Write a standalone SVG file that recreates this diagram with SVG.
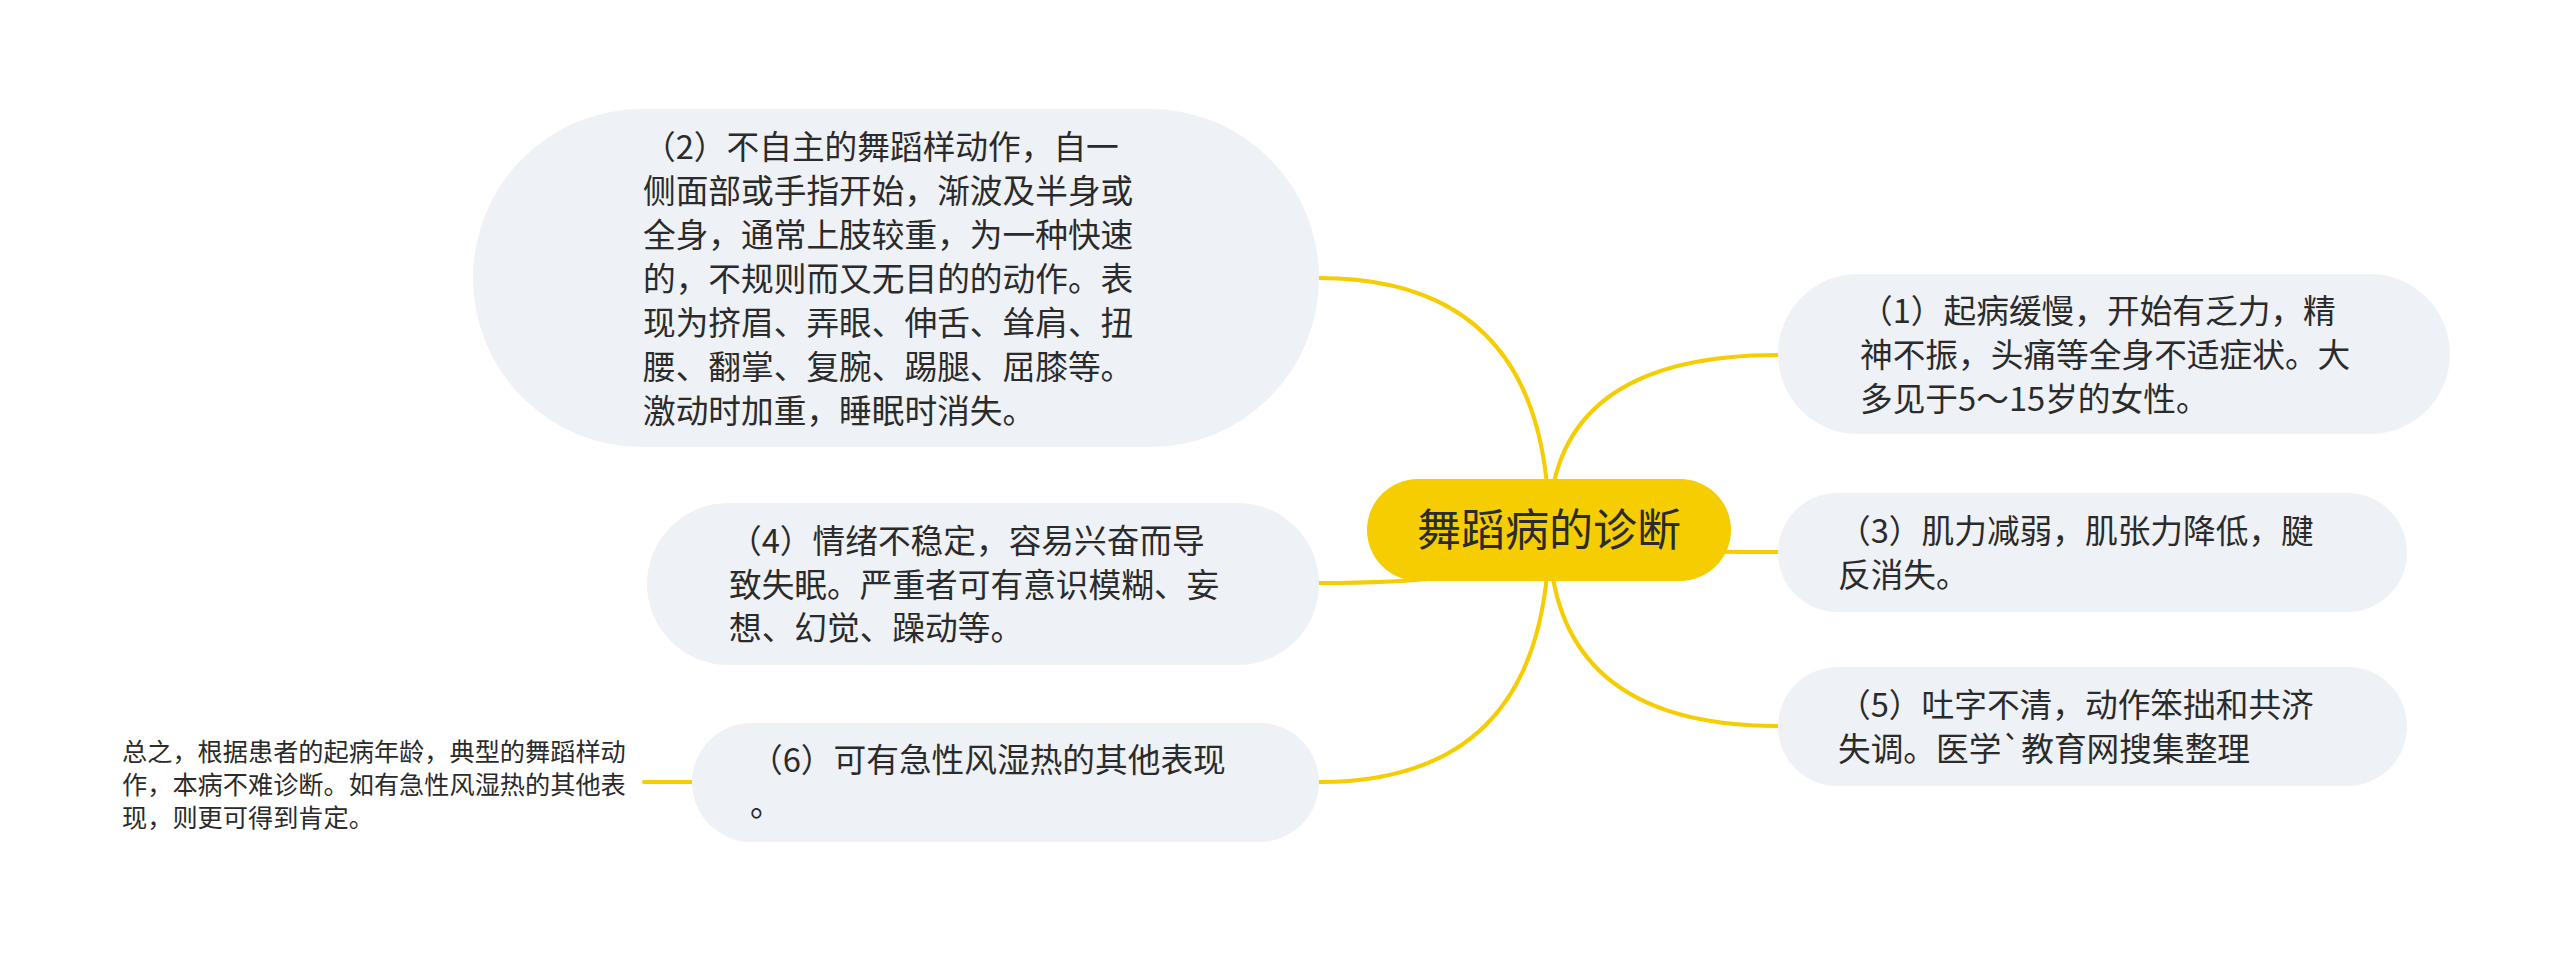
<svg xmlns="http://www.w3.org/2000/svg" width="2560" height="953" viewBox="0 0 2560 953">
<style>
.bg{fill:#ffffff}
.node{fill:#eef1f5}
.root{fill:#f5cd00}
.t{font-family:"Noto Sans CJK SC","Noto Sans",sans-serif;font-size:32.7px;fill:#2b2b2b}
.rt{font-family:"Noto Sans CJK SC","Noto Sans",sans-serif;font-size:44px;fill:#2b2b2b;text-anchor:middle}
.st{font-family:"Noto Sans CJK SC","Noto Sans",sans-serif;font-size:25.2px;fill:#2b2b2b}
.c{fill:none;stroke:#f5cd00;stroke-width:4;stroke-linecap:round}
</style>
<rect class="bg" x="0" y="0" width="2560" height="953"/>
<g id="connectors">
<path class="c" d="M1549,530 Q1549,278 1319,278"/>
<path class="c" d="M1549,530 Q1549,355 1778,355"/>
<path class="c" d="M1549,530 Q1549,552 1778,552"/>
<path class="c" d="M1549,530 Q1549,583 1319,583"/>
<path class="c" d="M1549,530 Q1549,726 1778,726"/>
<path class="c" d="M1549,530 Q1549,782 1319,782"/>
<path class="c" d="M692,782 L644,782"/>
</g>
<g id="root">
<rect class="root" x="1367" y="479" width="364" height="102" rx="51"/>
<text class="rt" x="1549" y="546">舞蹈病的诊断</text>
</g>
<g id="node2">
<rect class="node" x="473" y="109" width="846" height="338" rx="169"/>
<text class="t" x="643" y="159">（2）不自主的舞蹈样动作，自一</text>
<text class="t" x="643" y="203">侧面部或手指开始，渐波及半身或</text>
<text class="t" x="643" y="247">全身，通常上肢较重，为一种快速</text>
<text class="t" x="643" y="291">的，不规则而又无目的的动作。表</text>
<text class="t" x="643" y="335">现为挤眉、弄眼、伸舌、耸肩、扭</text>
<text class="t" x="643" y="379">腰、翻掌、复腕、踢腿、屈膝等。</text>
<text class="t" x="643" y="423">激动时加重，睡眠时消失。</text>
</g>
<g id="node1">
<rect class="node" x="1778" y="274" width="672" height="160" rx="80"/>
<text class="t" x="1860" y="323">（1）起病缓慢，开始有乏力，精</text>
<text class="t" x="1860" y="367">神不振，头痛等全身不适症状。大</text>
<text class="t" x="1860" y="411">多见于5～15岁的女性。</text>
</g>
<g id="node3">
<rect class="node" x="1778" y="493" width="629" height="119" rx="59.5"/>
<text class="t" x="1838" y="543">（3）肌力减弱，肌张力降低，腱</text>
<text class="t" x="1838" y="587">反消失。</text>
</g>
<g id="node4">
<rect class="node" x="647" y="503" width="672" height="162" rx="81"/>
<text class="t" x="729" y="553">（4）情绪不稳定，容易兴奋而导</text>
<text class="t" x="729" y="597">致失眠。严重者可有意识模糊、妄</text>
<text class="t" x="729" y="640">想、幻觉、躁动等。</text>
</g>
<g id="node5">
<rect class="node" x="1778" y="667" width="629" height="119" rx="59.5"/>
<text class="t" x="1838" y="717">（5）吐字不清，动作笨拙和共济</text>
<text class="t" x="1838" y="761">失调。医学`教育网搜集整理</text>
</g>
<g id="node6">
<rect class="node" x="692" y="723" width="627" height="119" rx="59.5"/>
<text class="t" x="750" y="772">（6）可有急性风湿热的其他表现</text>
<text class="t" x="750" y="816">。</text>
</g>
<g id="note">
<text class="st" x="122" y="761">总之，根据患者的起病年龄，典型的舞蹈样动</text>
<text class="st" x="122" y="794">作，本病不难诊断。如有急性风湿热的其他表</text>
<text class="st" x="122" y="827">现，则更可得到肯定。</text>
</g>
</svg>
